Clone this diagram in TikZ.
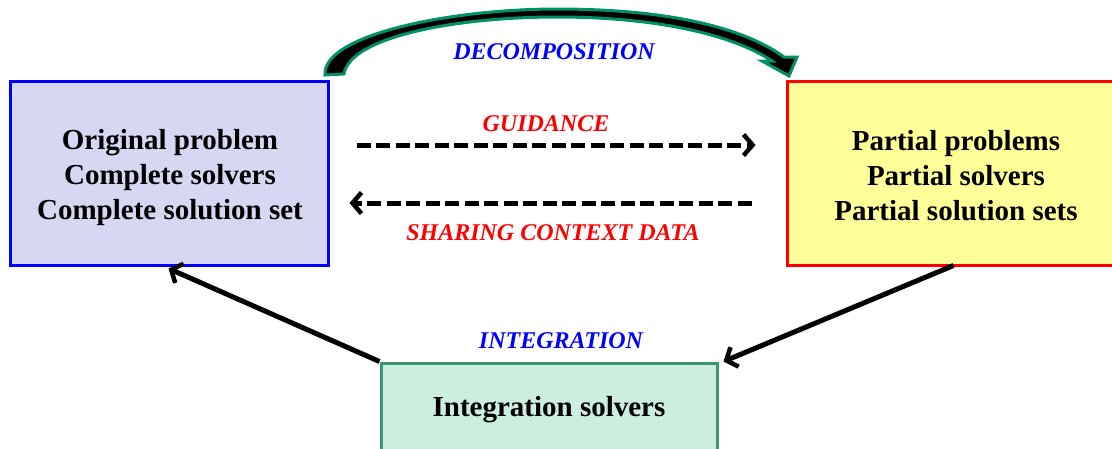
\documentclass[tikz,border=0pt]{standalone}
\usepackage{fontspec}
\setmainfont{Liberation Serif}
\usetikzlibrary{arrows.meta,calc}
\definecolor{lav}{RGB}{214,215,242}
\definecolor{yel}{RGB}{255,255,153}
\definecolor{mint}{RGB}{204,238,222}
\definecolor{mintline}{RGB}{60,150,110}
\definecolor{decgreen}{RGB}{0,145,105}
\definecolor{blu}{RGB}{0,0,255}
\definecolor{rd}{RGB}{255,0,0}
\tikzset{
  boxstyle/.style={draw, line width=3pt, inner sep=0pt},
  txtstyle/.style={inner sep=0pt, align=center,
    font=\fontsize{29}{35}\selectfont\bfseries},
  lbl/.style={font=\fontsize{24}{28}\selectfont\bfseries\itshape, inner sep=0pt},
  flowarrow/.style={line width=5pt, -{Straight Barb[length=9pt,width=21pt,line width=4.5pt]}},
  dasharrow/.style={line width=5pt, dash pattern=on 14pt off 5.5pt,
    -{Straight Barb[length=9pt,width=21pt,line width=4.5pt]}}
}
\begin{document}
\begin{tikzpicture}[x=1pt,y=-1pt]
\useasboundingbox (0,0) rectangle (1112,448);
\node[boxstyle, draw=blu, fill=lav, minimum width=318pt, minimum height=184pt] (orig) at (169,173) {};
\node[txtstyle] (origtxt) at ($(orig.center)+(1,5)$)
  {Original problem\\Complete solvers\\Complete solution set};
\node[boxstyle, draw=rd, fill=yel, minimum width=338pt, minimum height=184pt] (part) at (956,173) {};
\node[txtstyle] (parttxt) at ($(part.center)+(0,3)$)
  {Partial problems\\Partial solvers\\Partial solution sets};
\node[boxstyle, draw=mintline, fill=mint, minimum width=336pt, minimum height=96pt] (integ) at (549,411) {};
\node[txtstyle] (integtxt) at ($(integ.center)+(0,-1)$) {Integration solvers};
% decomposition block arrow
\fill[black, draw=decgreen, line width=3pt, line join=miter]
  (325,75) .. controls (322,35) and (450,9) .. (557,9)
  .. controls (660,9) and (740,25) .. (784,57)
  -- (797,57) -- (789,76) -- (762,61) -- (772,61)
  .. controls (735,36) and (660,17) .. (557,17)
  .. controls (455,17) and (350,37) .. (344,74) -- cycle;
\node[lbl, text=blu] (declbl) at (554,52) {DECOMPOSITION};
\node[lbl, text=rd] (guidlbl) at (546,124) {GUIDANCE};
\node[lbl, text=rd] (sharlbl) at (553,233) {SHARING CONTEXT DATA};
\node[lbl, text=blu] (intlbl) at (561,341) {INTEGRATION};
\draw[dasharrow] ([xshift=27pt,yshift=28pt]orig.east) -- ([xshift=-30pt,yshift=28pt]part.west);
\draw[dasharrow] ([xshift=-34pt,yshift=-30pt]part.west) -- ([xshift=20pt,yshift=-30pt]orig.east);
\draw[flowarrow] (integ.north west) -- ([xshift=160pt,yshift=-2pt]orig.south west);
\draw[flowarrow] ([xshift=168pt,yshift=1pt]part.south west) -- ([xshift=5pt]integ.north east);
\end{tikzpicture}
\end{document}
